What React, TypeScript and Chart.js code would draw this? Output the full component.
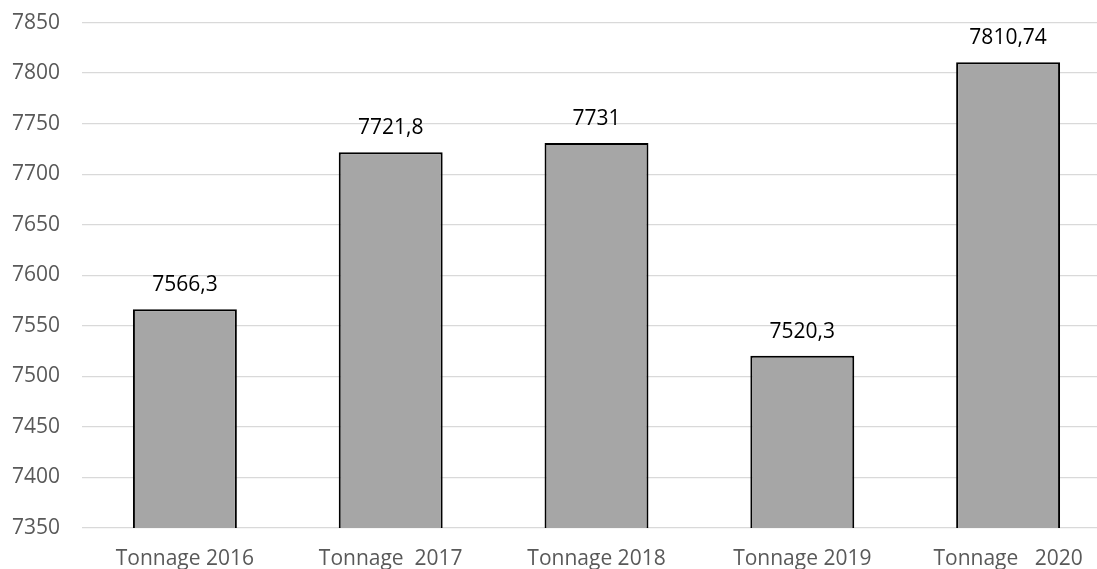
import React, { useEffect, useRef } from "react";
import { Chart, registerables } from "chart.js";

Chart.register(...registerables);

const categories = ["Tonnage 2016", "Tonnage  2017", "Tonnage 2018", "Tonnage 2019", "Tonnage   2020"];
const tonnage = [7566.3, 7721.8, 7731, 7520.3, 7810.74];
const yMin = 7350;
const yMax = 7850;
const yStep = 50;

const FONT = "'Open Sans', 'Noto Sans', sans-serif";

const valueLabels = {
  id: "valueLabels",
  afterDatasetsDraw(chart: any) {
    const ctx = chart.ctx;
    const meta = chart.getDatasetMeta(0);
    ctx.save();
    ctx.font = `21px ${FONT}`;
    ctx.fillStyle = "#000000";
    ctx.textAlign = "center";
    ctx.textBaseline = "alphabetic";
    meta.data.forEach((bar: any, i: number) => {
      const txt = String(tonnage[i]).replace(".", ",");
      ctx.fillText(txt, bar.x, bar.y - 18);
    });
    ctx.restore();
  },
};

export default function App() {
  const ref = useRef<HTMLCanvasElement | null>(null);
  useEffect(() => {
    document.body.style.margin = "0";
    document.body.style.overflow = "hidden";
    const chart = new Chart(ref.current!, {
      type: "bar",
      data: {
        labels: categories,
        datasets: [
          {
            data: tonnage,
            backgroundColor: "#a6a6a6",
            borderColor: "#000000",
            borderWidth: 2,
            categoryPercentage: 1,
            barPercentage: 0.505,
          },
        ],
      },
      options: {
        animation: false,
        responsive: false,
        maintainAspectRatio: false,
        layout: { padding: { left: 12, top: 10, right: 0, bottom: 0 } },
        plugins: { legend: { display: false }, tooltip: { enabled: false } },
        scales: {
          x: {
            grid: { display: false, drawTicks: false },
            border: { display: false },
            ticks: { color: "#595959", font: { family: FONT, size: 21 }, padding: 18, maxRotation: 0 },
            afterFit: (s: any) => {
              s.height = 41;
            },
          },
          y: {
            min: yMin,
            max: yMax,
            grid: { color: "#d9d9d9", lineWidth: 1.3, drawTicks: false },
            border: { display: false },
            ticks: {
              stepSize: yStep,
              color: "#595959",
              font: { family: FONT, size: 21 },
              padding: 22,
              callback: (v: any) => String(v),
            },
            afterFit: (s: any) => {
              s.width = 70;
            },
          },
        },
      },
      plugins: [valueLabels],
    });
    return () => chart.destroy();
  }, []);
  return (
    <div style={{ position: "fixed", left: 0, top: -12, width: 1111, height: 581, background: "#fff" }}>
      <canvas ref={ref} width={1111} height={581} style={{ display: "block" }} />
    </div>
  );
}
